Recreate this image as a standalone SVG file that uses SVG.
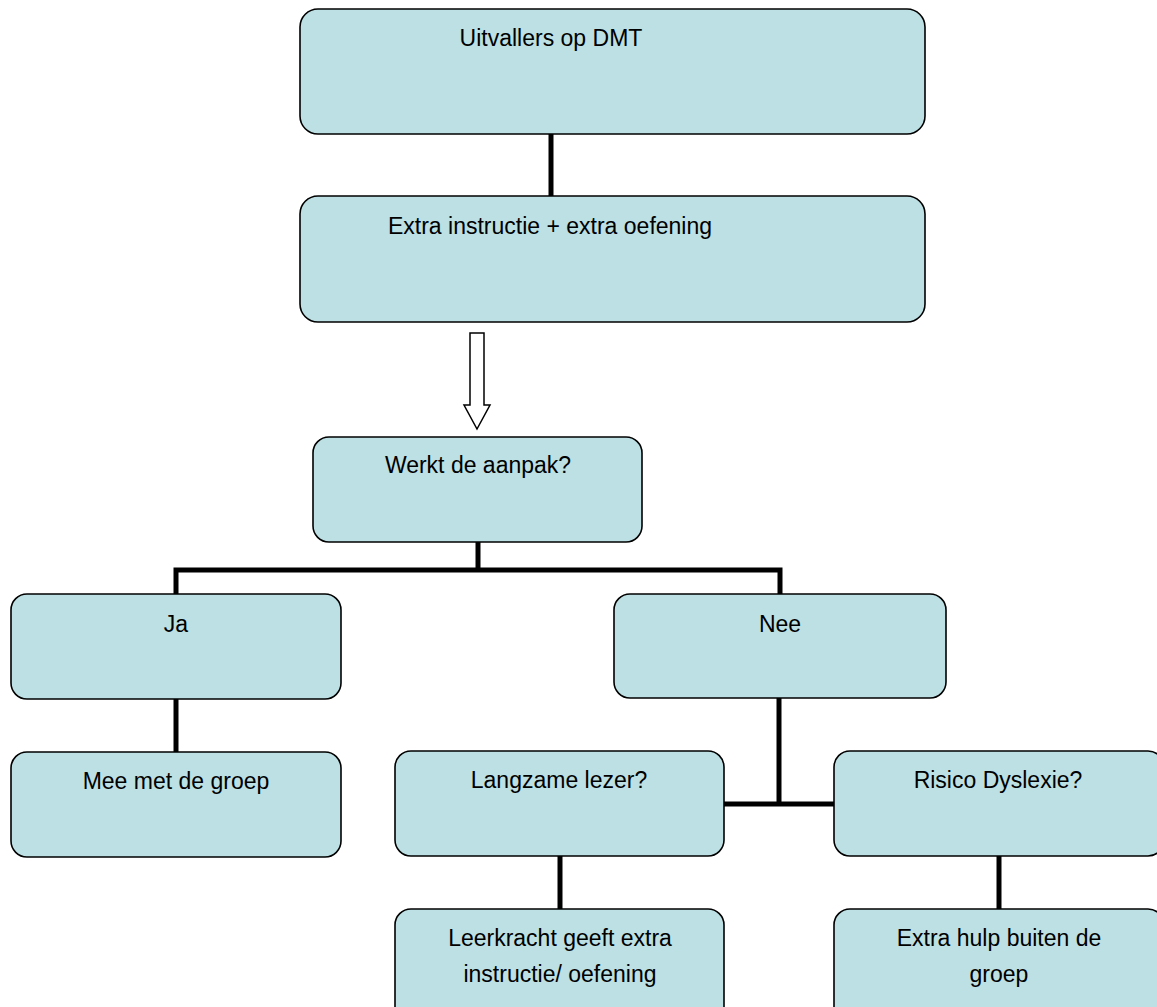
<svg xmlns="http://www.w3.org/2000/svg" width="1157" height="1007" viewBox="0 0 1157 1007">
<style>
.box{fill:#bce0e4;stroke:#000;stroke-width:1.6}
.t{font-family:"Liberation Sans",Arial,sans-serif;font-size:23px;fill:#000;text-anchor:middle}
.c{stroke:#000;stroke-width:5;fill:none}
</style>
<rect width="1157" height="1007" fill="#fff"/>
<g id="connectors">
<line class="c" x1="551" y1="134" x2="551" y2="196"/>
<polygon points="470,333 484,333 484,405 490,405 477,429 464,405 470,405" fill="#fff" stroke="#000" stroke-width="1.5"/>
<polyline class="c" points="176,595 176,570 780,570 780,595"/>
<line class="c" x1="478" y1="542" x2="478" y2="570"/>
<line class="c" x1="176" y1="699" x2="176" y2="752"/>
<line class="c" x1="779" y1="698" x2="779" y2="804"/>
<line class="c" x1="724" y1="804" x2="834" y2="804"/>
<line class="c" x1="560" y1="856" x2="560" y2="909"/>
<line class="c" x1="999" y1="856" x2="999" y2="909"/>
</g>
<g id="n1"><rect class="box" x="300" y="9" width="625" height="125" rx="18"/><text class="t" x="551" y="46">Uitvallers op DMT</text></g>
<g id="n2"><rect class="box" x="300" y="196" width="625" height="126" rx="18"/><text class="t" x="550" y="234">Extra instructie + extra oefening</text></g>
<g id="n3"><rect class="box" x="313" y="437" width="329" height="105" rx="16"/><text class="t" x="478" y="473">Werkt de aanpak?</text></g>
<g id="n4"><rect class="box" x="11" y="594" width="330" height="105" rx="16"/><text class="t" x="176" y="632">Ja</text></g>
<g id="n5"><rect class="box" x="614" y="594" width="332" height="104" rx="16"/><text class="t" x="780" y="632">Nee</text></g>
<g id="n6"><rect class="box" x="11" y="752" width="330" height="105" rx="16"/><text class="t" x="176" y="789">Mee met de groep</text></g>
<g id="n7"><rect class="box" x="395" y="751" width="329" height="105" rx="16"/><text class="t" x="559" y="788">Langzame lezer?</text></g>
<g id="n8"><rect class="box" x="834" y="751" width="330" height="105" rx="16"/><text class="t" x="998" y="788">Risico Dyslexie?</text></g>
<g id="n9"><rect class="box" x="395" y="909" width="329" height="120" rx="16"/><text class="t" x="560" y="946">Leerkracht geeft extra</text><text class="t" x="560" y="982">instructie/ oefening</text></g>
<g id="n10"><rect class="box" x="834" y="909" width="330" height="120" rx="16"/><text class="t" x="999" y="946">Extra hulp buiten de</text><text class="t" x="999" y="982">groep</text></g>
</svg>
